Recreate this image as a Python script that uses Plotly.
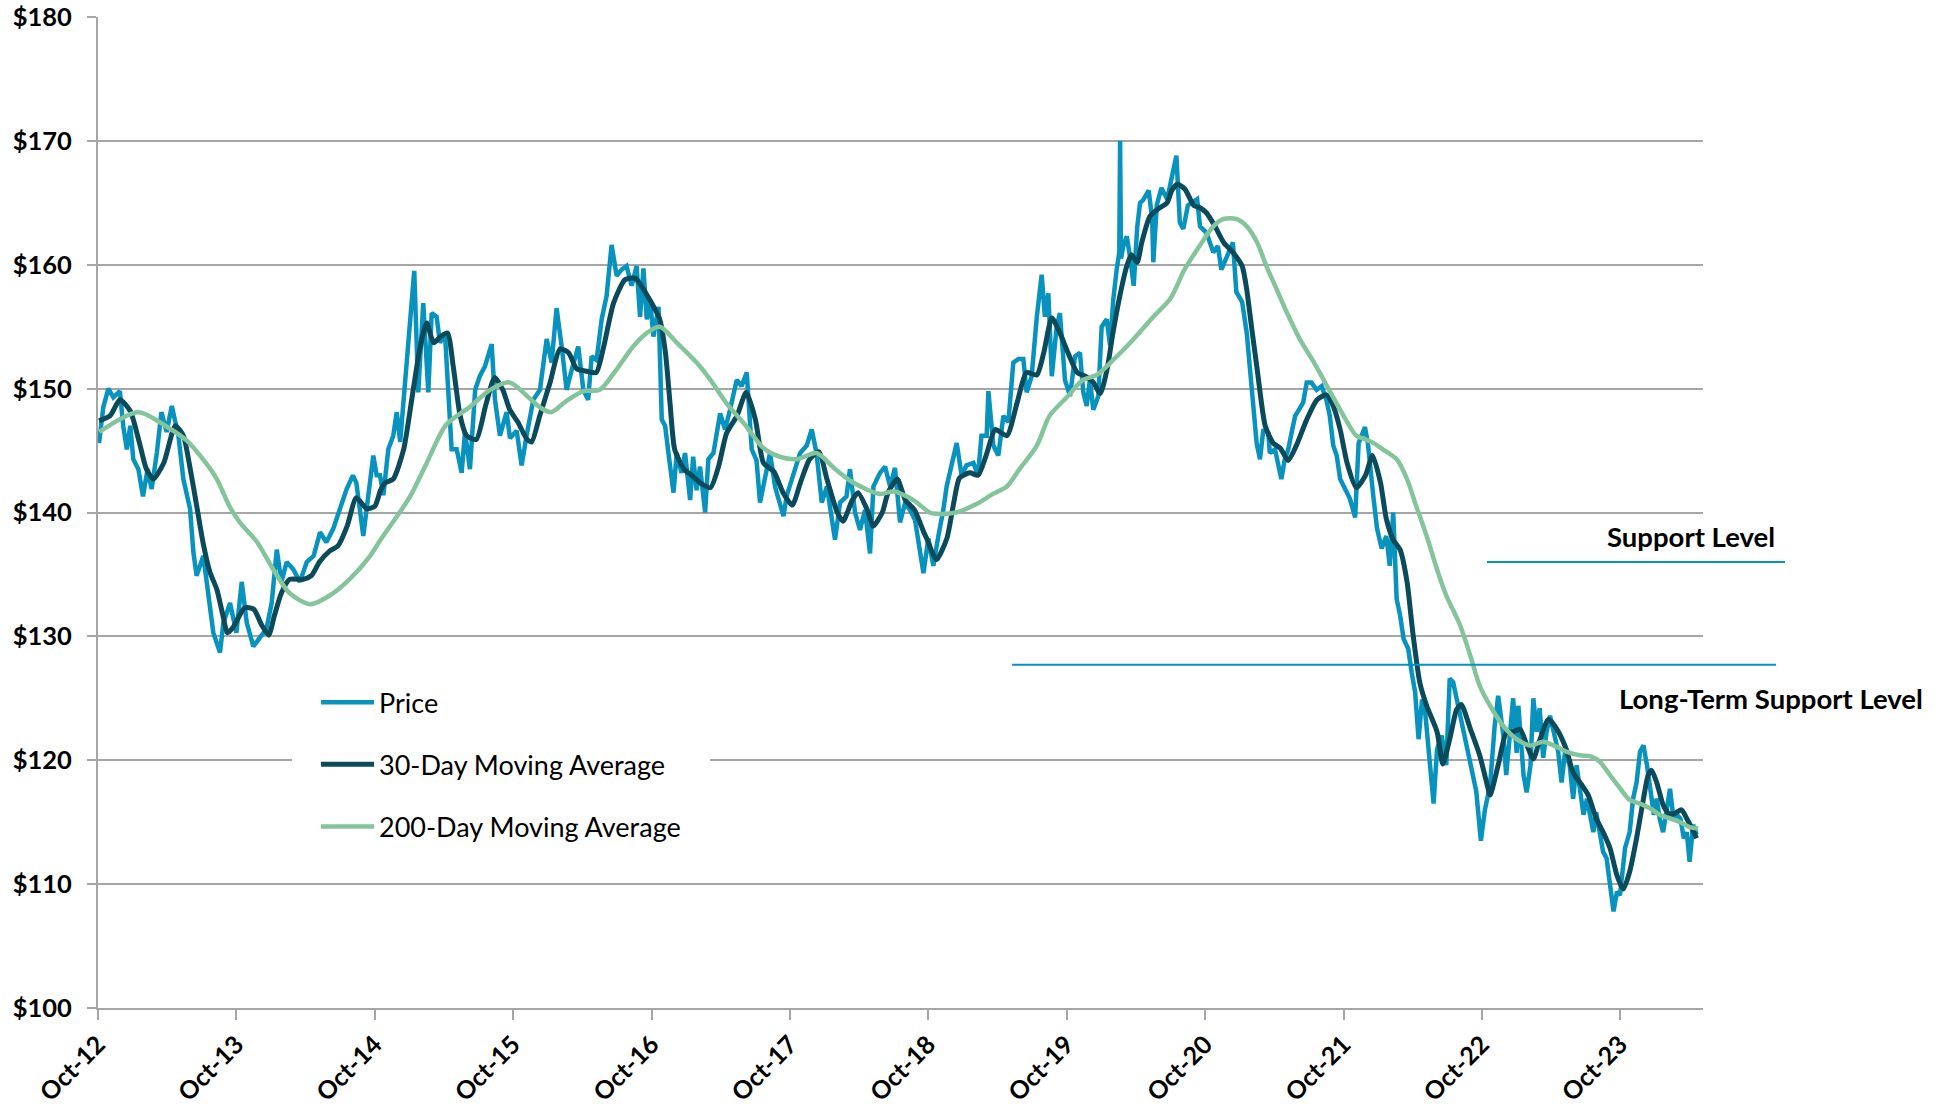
import pandas as pd
import plotly.graph_objects as go

# ---------------- data (x = months since 1 Oct 2012) ----------------
start_date = "2012-10-01"
axis_end_month = 139.16

price_months = [0.09,0.46,0.9,1.33,1.9,2.2,2.5,2.8,3.06,3.5,3.9,4.3,4.65,5.1,5.5,5.95,6.4,6.8,6.97,7.4,7.98,8.27,8.55,9.13,9.57,10.0,10.58,10.87,11.45,12.0,12.46,12.9,13.47,14.05,14.6,15.06,15.5,15.9,16.36,16.94,17.5,18.1,18.7,19.25,19.8,20.4,20.98,21.56,22.1,22.4,23.0,23.6,23.87,24.16,24.45,24.74,25.17,25.6,25.9,26.2,26.6,27.05,27.42,27.77,28.2,28.64,28.93,29.36,29.65,30.08,30.37,30.66,31.1,31.53,31.82,32.25,32.7,33.1,33.55,34.13,34.42,34.85,35.43,35.72,36.3,36.73,37.16,37.74,38.32,38.9,39.33,39.76,40.2,40.63,41.07,41.64,42.08,42.5,42.8,43.23,43.67,44.1,44.53,44.97,45.4,45.83,46.27,46.7,47.0,47.29,47.58,47.87,48.16,48.6,48.88,49.17,49.46,49.9,50.18,50.6,50.9,51.34,51.6,51.9,52.2,52.64,52.92,53.36,53.94,54.37,54.8,55.38,55.8,56.25,56.68,57.1,57.4,57.84,58.27,58.7,59.14,59.43,59.7,60.3,60.87,61.45,61.88,62.3,62.75,63.2,63.6,63.9,64.34,64.9,65.2,65.64,66.07,66.5,66.94,67.23,67.8,68.24,68.68,69.1,69.54,69.98,70.4,70.84,71.28,71.57,71.99,72.43,72.86,73.29,73.58,74.0,74.45,74.88,75.3,75.9,76.3,76.6,77.05,77.2,77.63,78.06,78.5,78.93,79.36,79.8,80.23,80.52,80.95,81.4,81.82,82.1,82.4,82.7,83.12,83.4,83.84,84.28,84.71,85.14,85.43,85.72,86.0,86.3,86.73,87.02,87.46,87.75,88.03,88.32,88.55,88.62,88.7,88.9,89.2,89.5,89.8,90.1,90.35,90.6,91.1,91.4,91.5,91.8,92.2,92.7,93.1,93.5,93.8,94.1,94.5,95.0,95.3,95.55,96.1,96.7,97.1,97.4,97.9,98.4,98.7,99.2,99.6,100.0,100.3,100.46,100.75,101.04,101.47,101.6,102.05,102.34,102.6,102.9,103.2,103.5,103.8,104.2,104.5,104.8,105.2,105.66,106.1,106.5,106.8,107.1,107.4,107.7,108.1,108.55,109.0,109.3,109.85,110.1,110.6,110.9,111.3,111.7,112.0,112.3,112.6,112.9,113.2,113.6,113.9,114.2,114.5,114.8,115.05,115.5,115.8,116.1,116.5,116.9,117.2,117.5,117.8,118.2,118.7,119.1,119.5,119.9,120.25,120.7,121.1,121.4,121.85,122.1,122.7,123.0,123.15,123.6,123.87,124.2,124.45,124.74,125.0,125.3,125.6,125.9,126.2,126.6,126.9,127.2,127.6,127.9,128.2,128.5,128.8,129.1,129.4,129.65,129.9,130.2,130.5,130.8,131.1,131.4,131.7,131.96,132.4,132.8,133.1,133.4,133.7,134.0,134.3,134.6,134.9,135.15,135.4,135.7,136.0,136.3,136.6,136.9,137.2,137.5,137.75,138.0,138.3,138.6]
price_values = [145.6,148.5,150.0,149.3,149.8,146.9,145.1,147.0,144.3,143.5,141.3,143.5,141.9,144.8,148.1,146.5,148.6,147.0,146.2,142.7,140.3,136.8,134.9,136.5,133.3,130.3,128.7,131.1,132.7,130.3,134.4,131.1,129.2,130.0,130.6,132.7,137.0,134.4,136.0,135.4,134.4,136.0,136.5,138.4,137.6,138.7,140.3,141.9,143.0,142.4,138.1,142.7,144.6,143.0,143.0,141.4,145.1,146.2,148.1,145.7,150.2,154.8,159.5,149.7,156.9,149.7,156.1,155.8,153.7,154.5,150.2,145.1,145.1,143.2,146.5,143.5,149.9,151.0,151.8,153.6,149.1,146.2,148.1,146.0,146.6,143.8,146.2,149.1,149.9,154.0,152.1,156.5,153.4,149.9,151.5,153.4,149.9,149.1,152.6,152.3,155.6,157.5,161.6,159.1,159.6,159.9,158.3,159.9,155.8,159.7,155.6,157.2,154.2,156.6,147.5,147.0,144.8,141.6,144.8,143.2,144.8,141.0,144.5,141.8,143.7,140.0,144.3,144.8,148.0,146.7,148.3,150.7,150.2,151.3,145.1,144.2,140.8,142.9,144.8,142.1,140.5,139.7,141.3,143.2,144.8,145.4,146.7,144.8,140.8,142.1,139.4,137.8,140.8,141.3,143.5,140.0,138.6,140.2,136.7,142.1,143.2,143.7,142.1,143.6,139.2,140.8,140.2,139.4,136.8,135.1,137.9,135.7,138.1,140.2,142.1,144.0,145.6,143.0,143.8,144.0,143.0,146.2,146.2,149.8,145.4,144.6,147.8,147.3,152.1,152.4,152.4,149.7,151.0,155.8,159.2,155.8,157.7,151.0,155.0,156.1,150.7,149.4,152.6,152.9,149.7,148.6,150.7,148.3,149.4,155.0,155.6,153.5,157.2,159.6,161.0,170.0,160.5,161.5,162.3,160.5,158.3,163.0,165.0,165.2,166.0,163.7,160.2,164.8,166.2,165.3,167.0,168.8,163.4,162.9,164.8,165.1,165.3,163.1,162.6,161.0,161.5,159.6,160.7,161.8,157.8,157.0,154.5,150.2,147.5,145.6,144.3,146.7,146.4,144.8,145.1,143.8,142.7,144.3,145.1,146.5,147.8,148.4,148.9,150.5,150.5,149.9,150.2,149.1,147.8,145.4,144.6,142.7,141.9,141.1,139.6,145.6,146.9,145.6,141.1,138.7,137.1,138.1,135.7,140.0,133.0,131.7,129.8,129.0,127.1,125.5,121.7,124.9,124.1,119.6,116.5,120.9,122.0,119.6,126.6,126.3,125.0,123.1,120.9,119.3,117.5,113.5,116.0,118.0,122.8,125.2,122.0,118.8,125.0,120.6,124.4,118.8,117.4,119.6,125.0,122.3,124.2,120.2,122.3,123.6,122.3,120.7,118.2,120.7,119.6,116.9,119.6,117.7,115.6,116.9,115.3,114.2,115.8,114.2,112.6,112.1,110.2,107.8,109.4,109.1,112.9,114.2,116.9,118.2,120.7,121.2,119.6,117.7,115.6,116.9,115.3,114.2,115.8,117.7,115.3,115.6,115.3,113.7,114.2,111.8,114.8,114.0]

ma30_months = [0.09,1.04,1.9,2.8,3.6,4.2,4.8,5.7,6.7,7.4,8.0,8.6,9.1,9.7,10.3,10.9,11.2,11.7,12.7,13.5,14.2,14.8,15.3,15.9,16.6,17.8,18.5,19.2,20.1,20.8,21.6,22.4,23.3,24.0,24.5,24.9,25.6,26.5,27.2,27.9,28.5,29.1,29.7,30.3,30.8,31.4,31.96,32.8,33.6,34.4,35.1,35.7,36.4,37.2,37.6,38.3,39.2,40.05,40.8,41.5,42.4,43.2,43.8,44.7,45.7,46.6,47.1,47.7,48.3,48.7,49.2,49.6,50.0,50.8,51.6,52.2,53.1,53.8,54.5,55.4,56.2,57.0,57.7,58.6,59.4,60.2,60.9,61.7,62.5,63.2,64.1,64.6,65.4,65.9,66.7,67.2,68.0,68.5,69.3,70.0,70.8,71.6,71.85,72.7,73.6,74.2,74.7,75.6,76.3,77.0,77.8,78.8,79.7,80.5,81.4,82.0,82.7,83.4,84.1,84.9,85.6,86.3,86.9,87.5,88.0,88.6,89.2,89.6,90.1,90.5,91.2,91.9,92.7,93.1,93.6,94.25,95.0,95.55,96.1,96.85,97.6,98.4,99.2,99.6,100.0,100.5,101.2,101.9,102.5,103.2,103.9,104.8,105.7,106.5,107.1,107.7,108.3,109.1,109.9,110.5,111.2,111.7,112.3,112.9,113.5,114.0,114.6,115.2,116.1,116.6,117.2,117.8,118.2,119.0,119.8,120.4,120.7,121.4,122.1,122.7,123.3,123.9,124.45,125.0,125.75,126.5,127.3,127.9,128.5,129.2,129.9,130.5,131.1,131.7,132.25,132.8,133.4,134.0,134.4,134.7,135.15,135.7,136.2,136.7,137.3,137.75,138.2,138.6]
ma30_values = [147.4,147.8,149.1,148.2,145.6,143.5,142.7,144.0,147.0,146.2,143.5,140.3,137.6,135.2,133.8,131.4,130.3,130.7,132.3,132.2,130.9,130.1,131.7,133.5,134.6,134.6,134.9,136.0,136.9,137.3,138.9,141.2,140.3,140.5,141.8,142.4,142.7,145.1,149.1,153.2,155.3,153.7,154.2,154.5,151.8,147.8,146.2,145.9,148.6,150.9,149.9,148.3,147.3,145.9,145.7,147.8,150.5,153.2,152.9,151.6,151.4,151.3,153.2,156.9,158.8,158.9,158.3,157.4,156.4,155.6,152.9,148.8,145.1,143.5,142.9,142.4,142.0,143.7,146.4,147.8,149.7,147.5,144.0,143.3,141.6,140.6,142.4,144.3,144.9,142.7,140.0,139.3,141.0,141.6,140.2,138.9,140.0,141.6,142.7,141.0,140.2,138.4,137.9,136.2,137.9,140.8,142.8,143.2,143.0,144.6,146.7,146.2,148.9,151.3,151.1,152.9,155.7,154.5,152.9,151.3,151.0,150.5,149.6,151.6,154.5,157.5,159.9,160.8,160.2,161.8,163.9,164.5,165.0,166.0,166.5,166.1,164.8,164.6,164.2,163.1,161.8,161.0,159.9,158.0,155.1,151.6,147.0,145.6,145.2,144.2,145.4,147.5,149.1,149.5,148.6,146.7,144.0,142.0,143.0,144.6,142.4,139.5,137.8,137.0,134.4,130.3,126.3,124.4,122.3,119.7,121.7,124.1,124.5,122.5,120.4,118.2,117.2,119.6,122.2,122.3,122.5,121.2,120.1,121.6,123.3,122.5,120.9,119.0,118.2,117.2,115.3,114.2,112.9,110.7,109.6,111.0,113.7,116.9,118.8,119.2,118.2,116.4,115.7,115.7,116.0,115.3,114.5,113.7]

ma200_months = [0.1,3.5,6.0,7.7,9.1,10.3,11.4,12.3,13.8,15.2,16.6,18.4,20.1,21.8,23.6,24.5,27.0,28.5,30.2,32.2,34.0,35.7,37.2,38.3,39.3,40.6,42.1,43.5,45.0,46.4,47.6,48.7,50.2,51.9,53.1,54.5,56.0,57.7,59.1,60.6,62.3,63.8,65.5,67.8,69.0,70.7,72.1,72.7,74.4,76.2,77.6,78.8,79.9,81.4,82.5,84.0,85.4,86.6,88.0,89.5,91.5,93.0,94.2,95.5,96.7,97.6,98.7,99.6,100.5,101.3,102.2,103.1,104.2,105.5,106.8,108.0,109.1,109.9,110.6,111.4,112.6,113.5,114.3,115.2,116.1,116.9,118.1,119.0,119.8,120.7,121.9,123.0,124.2,125.3,126.2,127.3,128.5,129.5,130.2,131.1,132.0,132.8,133.7,134.6,135.4,136.3,137.2,138.0,138.75]
ma200_values = [146.5,148.1,146.9,145.8,144.3,142.7,140.5,139.2,137.6,135.4,133.5,132.6,133.3,134.6,136.5,137.8,141.2,144.0,147.1,148.5,149.9,150.5,149.4,148.5,148.1,149.0,149.8,149.9,151.6,153.4,154.5,155.0,153.7,152.1,150.7,148.8,147.2,145.2,144.5,144.3,144.8,143.6,142.4,141.5,141.7,141.0,140.0,139.9,140.0,140.7,141.5,142.1,143.5,145.4,147.8,149.3,150.7,151.1,152.3,153.7,155.8,157.3,159.6,161.5,163.1,163.7,163.7,163.1,161.8,159.9,158.0,156.1,154.0,152.0,149.8,147.8,146.2,145.9,145.6,145.1,144.3,142.7,140.5,138.1,135.4,133.3,130.9,128.4,126.0,124.4,122.7,121.7,121.2,121.5,121.2,120.7,120.4,120.3,119.9,118.8,117.7,116.8,116.5,116.1,115.6,115.3,115.0,114.6,114.5]

support_level = 136.0
long_term_support_level = 127.7

y_ticks = [100, 110, 120, 130, 140, 150, 160, 170, 180]
x_tick_labels = ["Oct-12","Oct-13","Oct-14","Oct-15","Oct-16","Oct-17","Oct-18","Oct-19","Oct-20","Oct-21","Oct-22","Oct-23"]

# ---------------- helpers ----------------
t0 = pd.Timestamp(start_date)
def to_dates(months):
    return [t0 + pd.Timedelta(days=m * 30.4375) for m in months]

tick_dates = [pd.Timestamp(2012 + i, 10, 1) for i in range(len(x_tick_labels))]
x_end = t0 + pd.Timedelta(days=axis_end_month * 30.4375)

C_PRICE = "#0893bf"
C_MA30 = "#0b4a5a"
C_MA200 = "#84c49b"
GRID = "#a6a6a6"

fig = go.Figure()
fig.add_trace(go.Scatter(x=to_dates(price_months), y=price_values, mode="lines",
                         name="Price", legendgroup="a",
                         line=dict(color=C_PRICE, width=4.5)))
fig.add_trace(go.Scatter(x=to_dates(ma30_months), y=ma30_values, mode="lines",
                         name="30-Day Moving Average", legendgroup="b",
                         line=dict(color=C_MA30, width=5, shape="spline", smoothing=0.6)))
fig.add_trace(go.Scatter(x=to_dates(ma200_months), y=ma200_values, mode="lines",
                         name="200-Day Moving Average", legendgroup="c",
                         line=dict(color=C_MA200, width=4.5, shape="spline", smoothing=0.8)))

# support lines (extend beyond plot on the right)
fig.add_shape(type="line", xref="paper", yref="y", x0=0.8654, x1=1.0511,
              y0=support_level, y1=support_level, line=dict(color=C_PRICE, width=2))
fig.add_shape(type="line", xref="paper", yref="y", x0=0.5695, x1=1.0455,
              y0=long_term_support_level, y1=long_term_support_level, line=dict(color=C_PRICE, width=2))

fig.add_annotation(xref="paper", yref="y", x=0.9925, y=support_level + 2.1,
                   text="Support Level", showarrow=False, xanchor="center", yanchor="middle",
                   font=dict(family="Lato", size=27.5, color="black", weight="bold"))
fig.add_annotation(xref="paper", yref="y", x=1.0424, y=long_term_support_level - 2.7,
                   text="Long-Term Support Level", showarrow=False, xanchor="center", yanchor="middle",
                   font=dict(family="Lato", size=27.5, color="black", weight="bold"))

fig.update_layout(
    width=1935, height=1106,
    margin=dict(l=98, r=232, t=17, b=98, pad=0),
    paper_bgcolor="white", plot_bgcolor="white",
    font=dict(family="Lato", color="black"),
    showlegend=True,
    legend=dict(x=0.1209, y=0.357, xanchor="left", yanchor="top",
                bgcolor="white", bordercolor="white", borderwidth=24,
                font=dict(family="Lato", size=27, color="black"),
                tracegroupgap=24, itemwidth=53),
    xaxis=dict(type="date", range=[t0, x_end], automargin=False,
               tickmode="array", tickvals=tick_dates, ticktext=x_tick_labels,
               tickangle=-45, tickfont=dict(family="Lato", size=25, weight="bold", color="black"),
               showgrid=False, showline=True, linecolor=GRID, linewidth=2,
               ticks="outside", ticklen=10, tickcolor=GRID, tickwidth=2, zeroline=False),
    yaxis=dict(range=[100, 180], tickmode="array", tickvals=y_ticks, automargin=False,
               ticktext=["$" + str(v) for v in y_ticks],
               tickfont=dict(family="Lato", size=25.5, weight="bold", color="black"),
               showgrid=True, gridcolor=GRID, gridwidth=2,
               showline=True, linecolor=GRID, linewidth=2,
               ticks="outside", ticklen=9, tickcolor=GRID, tickwidth=2,
               ticklabelstandoff=10, zeroline=False),
)

fig.write_html("out.html", config={"displayModeBar": False},
               post_script="document.body.style.margin='0';document.body.style.overflow='hidden';")
